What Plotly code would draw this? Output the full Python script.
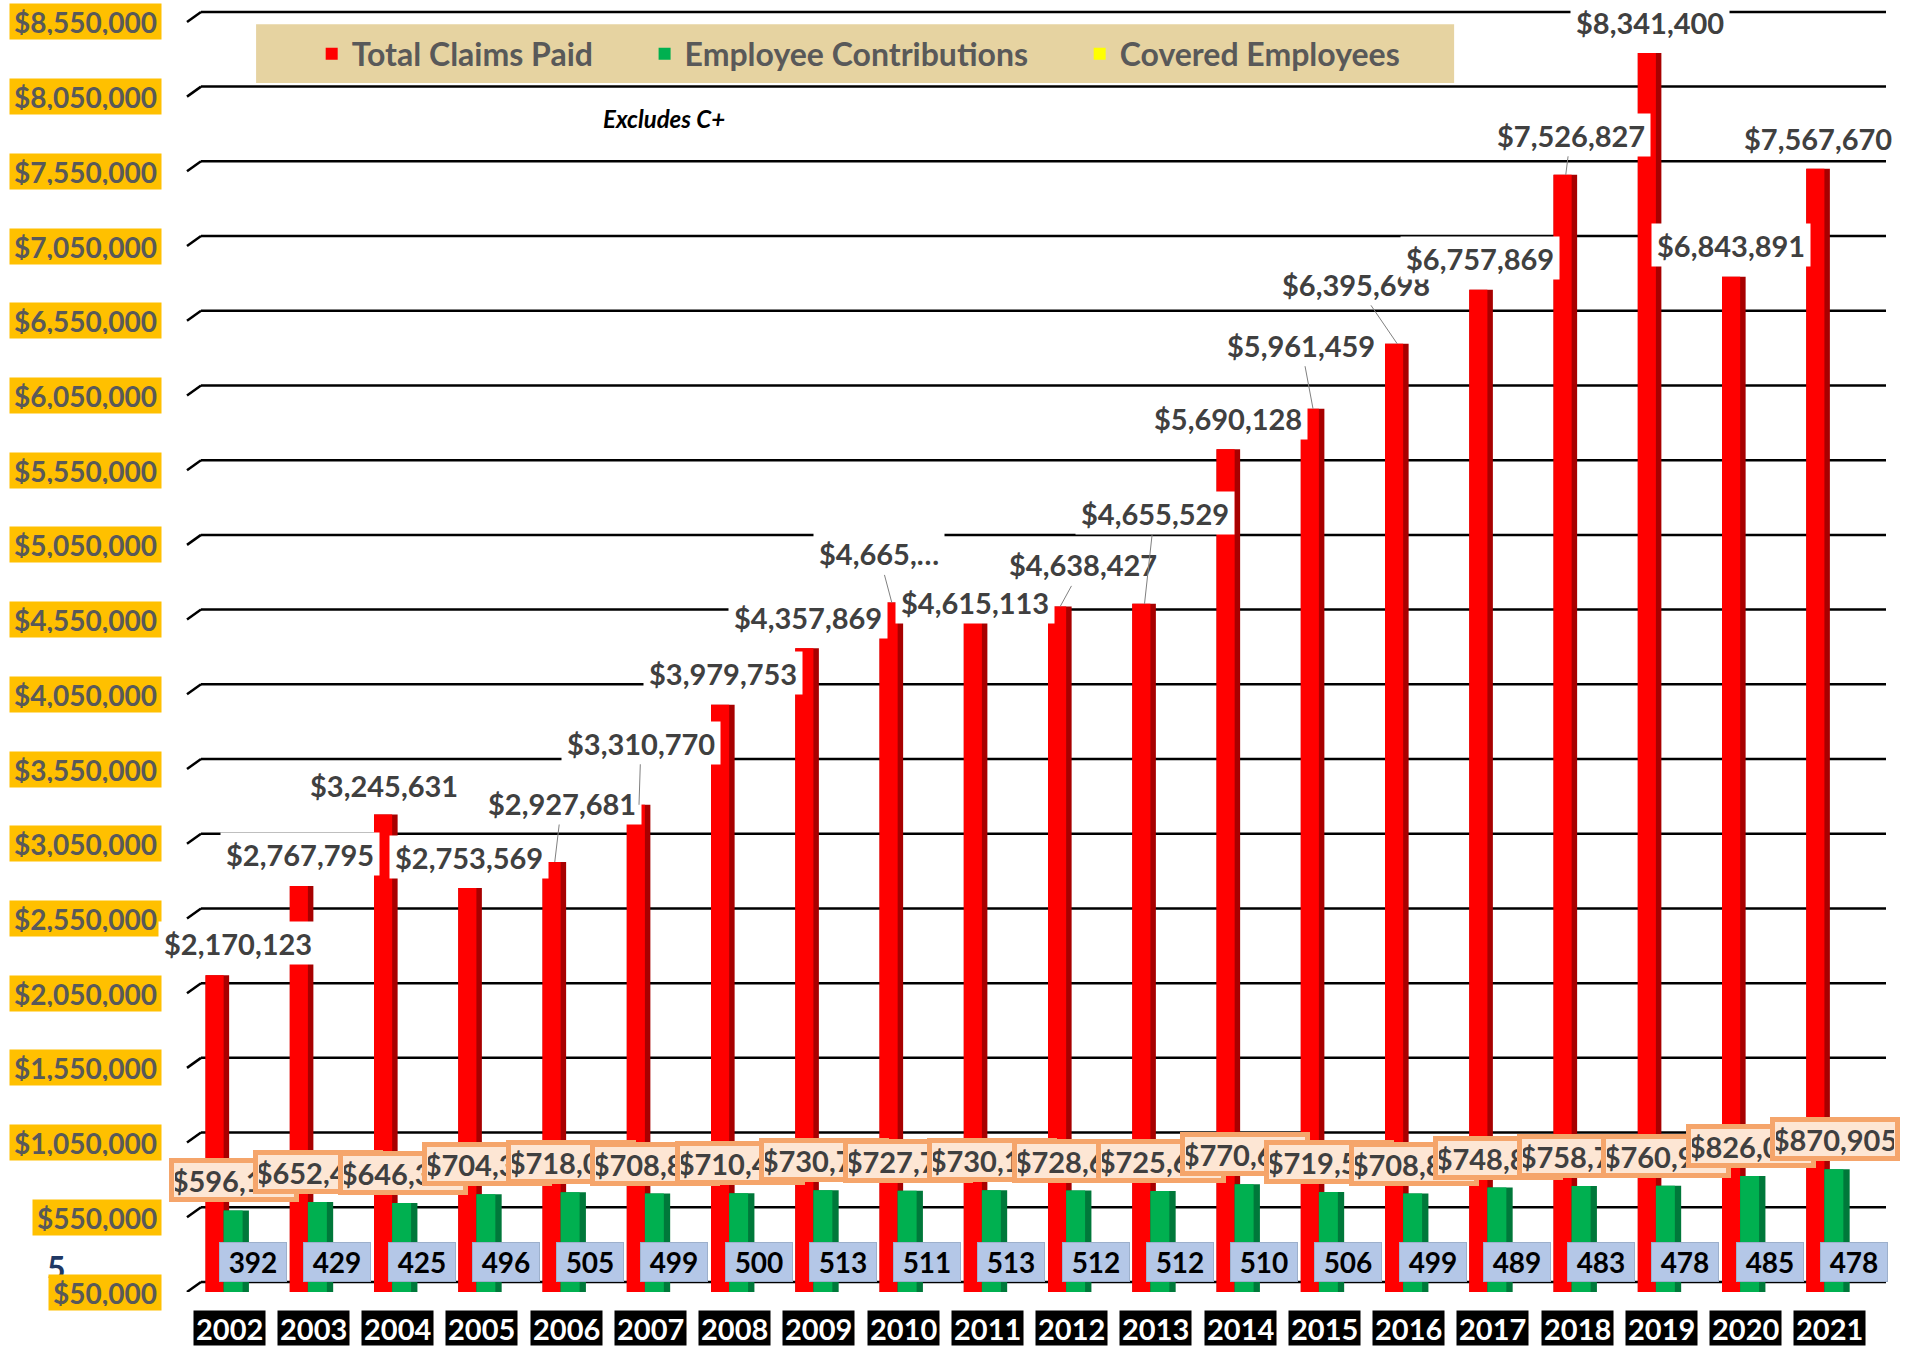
import plotly.graph_objects as go

# ---------------- data ----------------
years = [str(y) for y in range(2002, 2022)]
total_claims = [2170123, 2767795, 3245631, 2753569, 2927681, 3310770, 3979753, 4357869,
                4665000, 4615113, 4638427, 4655529, 5690128, 5961459, 6395698, 6757869,
                7526827, 8341400, 6843891, 7567670]
employee_contrib = [596150, 652450, 646350, 704350, 718050, 708850, 710450, 730750,
                    727750, 730150, 728650, 725650, 770650, 719550, 708850, 748850,
                    758750, 760950, 826050, 870905]
covered_employees = [392, 429, 425, 496, 505, 499, 500, 513, 511, 513, 512, 512, 510,
                     506, 499, 489, 483, 478, 485, 478]
y_ticks = list(range(50000, 8550001, 500000))
y_tick_labels = [f"${t:,}" for t in y_ticks]
claims_truncated = {8: "$4,665,\u2026"}   # label shown truncated in the source

# ---------------- label placement (pixel offsets, style only) ----------------
claims_label_offsets = [(20, -32), (-2, -32), (-2, -30), (-2, -31), (7, -59), (2, -62),
                        (0, -32), (0, -31), (-13, -49), (-1, -8), (23, -42), (10, -91),
                        (-1, -31), (-12, -64), (-41, -60), (-2, -32), (5, -40), (0, -31),
                        (-3, -32), (-1, -31)]
leader_idx = {4, 5, 8, 10, 11, 13, 14, 16}

FONT = "Lato"
GREY = "#595959"
DARK = "#404040"
idx = list(range(len(years)))
S = 0.02  # small horizontal shift of the bar group

fig = go.Figure()

# red bars: dark side then front face
fig.add_bar(x=idx, y=total_claims, offset=-0.30 + S, width=0.28, marker=dict(color="#A80000", line_width=0),
            showlegend=False, hoverinfo="skip")
fig.add_bar(x=idx, y=total_claims, offset=-0.30 + S, width=0.215, marker=dict(color="#FF0000", line_width=0),
            name="Total Claims Paid" + "\u00a0" * 6)
# green bars
fig.add_bar(x=idx, y=employee_contrib, offset=-0.085 + S, width=0.30, marker=dict(color="#00783A", line_width=0),
            showlegend=False, hoverinfo="skip")
fig.add_bar(x=idx, y=employee_contrib, offset=-0.085 + S, width=0.225, marker=dict(color="#00B050", line_width=0),
            name="Employee Contributions" + "\u00a0" * 6)
# yellow bars (covered employees, tiny on this scale)
fig.add_bar(x=idx, y=covered_employees, offset=0.17 + S, width=0.22, marker=dict(color="#FFFF00", line_width=0),
            name="Covered Employees")

shapes = []
# parchment legend box
shapes.append(dict(type="rect", xref="paper", yref="paper", x0=0.041, x1=0.752, y0=0.9365, y1=0.982,
                   fillcolor="#E6D3A1", line=dict(width=0), layer="below"))
# 3D-style gridlines (back wall offset)
dx = 14 / 1685
dy = 67000
for t in y_ticks:
    shapes.append(dict(type="line", xref="paper", yref="y", x0=0, x1=dx, y0=t, y1=t + dy,
                       line=dict(color="black", width=2.5), layer="below"))
    shapes.append(dict(type="line", xref="paper", yref="y", x0=dx, x1=1 + dx, y0=t + dy, y1=t + dy,
                       line=dict(color="black", width=2.5), layer="below"))

ann = []
# stray page number
ann.append(dict(text="<b>5</b>", xref="paper", yref="paper", x=-0.0777, y=0.0186, showarrow=False,
                xanchor="center", yanchor="middle",
                font=dict(family=FONT, size=32, color="#1F3864")))
# y tick labels
for t, lab in zip(y_ticks, y_tick_labels):
    ann.append(dict(text=f"<b>{lab}</b>", xref="paper", yref="y", x=0, y=t, xanchor="right", yanchor="middle",
                    xshift=-25, showarrow=False, bgcolor="#FFC000", borderpad=4, height=27,
                    font=dict(family=FONT, size=28, color=GREY)))
# year labels
for i, yr in zip(idx, years):
    ann.append(dict(text=f"<b>{yr}</b>", xref="x", yref="paper", x=i, y=0, yshift=-36, showarrow=False,
                    xanchor="center", yanchor="middle",
                    bgcolor="black", borderpad=2, height=30,
                    font=dict(family=FONT, size=29, color="white")))
# covered employees labels
for i, v in zip(idx, covered_employees):
    ann.append(dict(text=f"<b>{v}</b>", xref="x", yref="paper", x=i, y=0, xshift=24, yshift=30,
                    xanchor="center", yanchor="middle",
                    showarrow=False, bgcolor="#B4C7E7", borderpad=3, width=60, height=32,
                    bordercolor="#9DB0CC", borderwidth=1,
                    font=dict(family=FONT, size=28, color="black")))
# employee contribution labels (overlapping boxes)
for i, v in zip(idx, employee_contrib):
    ann.append(dict(text=f"<b>${v:,}</b>", xref="x", yref="y", x=i, y=v, xshift=5, yshift=30,
                    xanchor="center", yanchor="middle",
                    showarrow=False, bgcolor="#FDE6D4", bordercolor="#F5A56B", borderwidth=5,
                    borderpad=1, width=118, height=32,
                    font=dict(family=FONT, size=29, color=DARK)))
# total claims labels
for i, v in zip(idx, total_claims):
    txt = claims_truncated.get(i, f"${v:,}")
    axp, ayp = claims_label_offsets[i]
    ann.append(dict(text=f"<b>{txt}</b>", xref="x", yref="y", x=i - 0.155 + S, y=v, ax=axp, ay=ayp,
                    showarrow=True, arrowhead=0, arrowwidth=1,
                    arrowcolor="#808080" if i in leader_idx else "rgba(0,0,0,0)",
                    bgcolor="white", borderpad=5, height=32,
                    font=dict(family=FONT, size=29, color=DARK)))
# note
ann.append(dict(text="<b><i>Excludes C+</i></b>", xref="paper", yref="paper", x=0.283, y=0.909,
                xanchor="center", yanchor="middle",
                showarrow=False, font=dict(family=FONT, size=24, color="black")))

fig.update_layout(
    width=1911, height=1347,
    margin=dict(l=187, r=39, t=1, b=55),
    paper_bgcolor="white", plot_bgcolor="white",
    barmode="overlay",
    xaxis=dict(range=[-0.5, 19.5], showgrid=False, showticklabels=False, zeroline=False, showline=False),
    yaxis=dict(range=[50000, 8690000], showgrid=False, showticklabels=False, zeroline=False, showline=False),
    legend=dict(orientation="h", x=0.074, xanchor="left", y=0.959, yanchor="middle",
                bgcolor="rgba(0,0,0,0)", font=dict(family=FONT, size=32, color=GREY, weight="bold"),
                traceorder="normal"),
    shapes=shapes, annotations=ann,
    font=dict(family=FONT),
)

fig.write_html("out.html", config={"displayModeBar": False},
               post_script="document.body.style.margin='0';")
